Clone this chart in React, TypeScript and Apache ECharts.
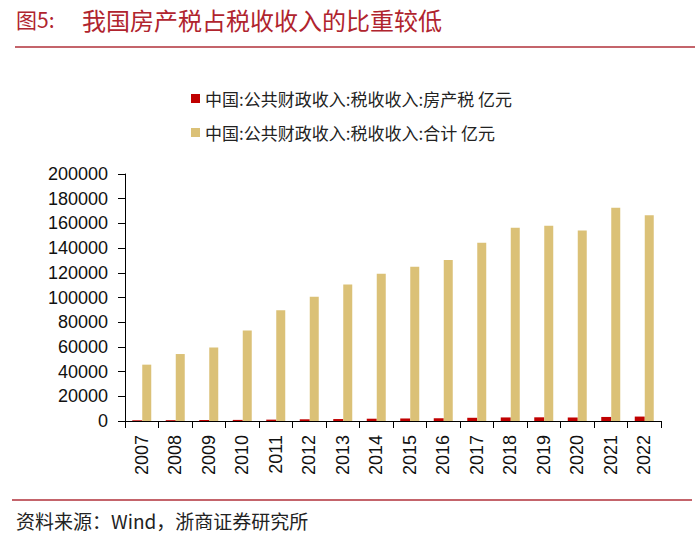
import React, { useEffect, useRef } from "react";
import * as echarts from "echarts";

const years = ["2007","2008","2009","2010","2011","2012","2013","2014","2015","2016","2017","2018","2019","2020","2021","2022"];
const propertyTax = [575, 680, 804, 894, 1102, 1372, 1582, 1852, 2051, 2221, 2604, 2889, 2988, 2842, 3278, 3590];
const totalTax = [45622, 54224, 59522, 73211, 89738, 100614, 110531, 119175, 124922, 130361, 144370, 156403, 158000, 154312, 172731, 166614];
const seriesNames = ["中国:公共财政收入:税收收入:房产税 亿元", "中国:公共财政收入:税收收入:合计 亿元"];
const titleLabel = "图5:";
const titleText = "我国房产税占税收收入的比重较低";
const sourceText = "资料来源：Wind，浙商证券研究所";

export default function App() {
  const ref = useRef<HTMLDivElement>(null);
  useEffect(() => {
    document.body.style.margin = "0";
    if (!ref.current) return;
    const chart = echarts.init(ref.current, null, { renderer: "svg" });
    const cjk = "'Noto Sans CJK SC', sans-serif";
    const num = "'Liberation Sans', Arial, sans-serif";
    chart.setOption({
      animation: false,
      backgroundColor: "#ffffff",
      graphic: [
        { type: "text", left: 16, top: 8, style: { text: titleLabel, fill: "#b0242e", font: `21px ${cjk}` } },
        { type: "text", left: 82, top: 7, style: { text: titleText, fill: "#b0242e", font: `24px ${cjk}` } },
        { type: "line", shape: { x1: 15, y1: 47, x2: 695, y2: 47 }, style: { stroke: "#b0303a", lineWidth: 1.5 } },
        { type: "line", shape: { x1: 12, y1: 500, x2: 692, y2: 500 }, style: { stroke: "#b0303a", lineWidth: 1.5 } },
        { type: "text", left: 16, top: 511, style: { text: sourceText, fill: "#222222", font: `19px ${cjk}` } },
      ],
      legend: {
        orient: "vertical",
        left: 186,
        top: 85,
        itemGap: 17,
        itemWidth: 9,
        itemHeight: 9,
        icon: "rect",
        textStyle: { fontFamily: cjk, fontSize: 17, color: "#222222" },
        data: seriesNames,
      },
      grid: { left: 125, right: 39, top: 174, bottom: 124, containLabel: false },
      xAxis: {
        type: "category",
        data: years,
        axisLine: { lineStyle: { color: "#000000", width: 1 } },
        axisTick: { show: true, alignWithLabel: false, length: 7, lineStyle: { color: "#000000" } },
        axisLabel: { rotate: 90, fontFamily: num, fontSize: 18, color: "#111111", margin: 14, interval: 0 },
      },
      yAxis: {
        type: "value",
        min: 0,
        max: 200000,
        interval: 20000,
        splitLine: { show: false },
        axisLine: { show: true, lineStyle: { color: "#000000", width: 1 } },
        axisTick: { show: true, length: 7, lineStyle: { color: "#000000" } },
        axisLabel: { fontFamily: num, fontSize: 18, color: "#111111", margin: 17, formatter: (v: number) => String(v) },
      },
      series: [
        { name: seriesNames[0], type: "bar", data: propertyTax, barWidth: 10, barGap: "0%", itemStyle: { color: "#c00000" } },
        { name: seriesNames[1], type: "bar", data: totalTax, barWidth: 9, itemStyle: { color: "#dbc177" } },
      ],
    });
    return () => chart.dispose();
  }, []);
  return <div ref={ref} style={{ width: 700, height: 545 }} />;
}
